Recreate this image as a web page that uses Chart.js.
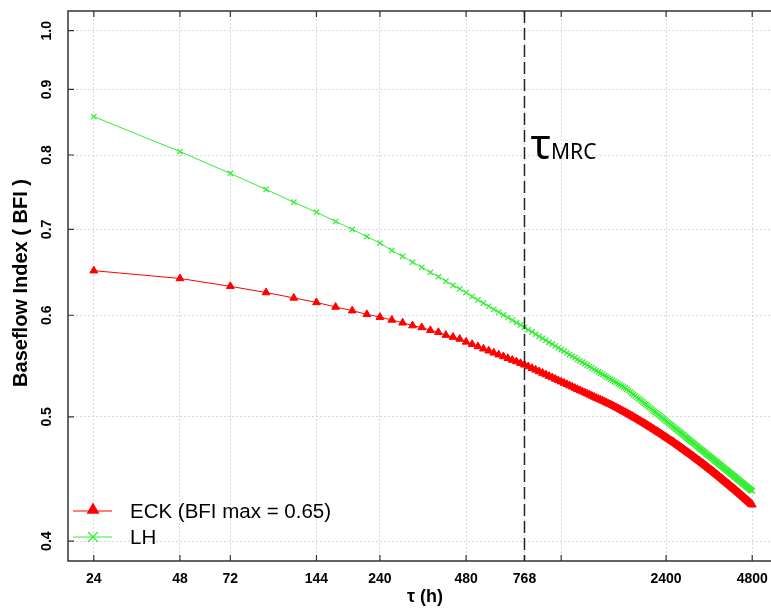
<!DOCTYPE html>
<html>
<head>
<meta charset="utf-8">
<script src="https://cdn.jsdelivr.net/npm/chart.js@4.4.1/dist/chart.umd.min.js"></script>
<style>
  html, body { margin: 0; padding: 0; background: #fff; overflow: hidden; }
  #wrap { width: 790px; height: 610px; }
</style>
</head>
<body>
<div id="wrap"><canvas id="c"></canvas></div>
<script>
// tau (h), one value every 24 h
const tau = [
  24, 48, 72, 96, 120, 144, 168, 192, 216, 240,
  264, 288, 312, 336, 360, 384, 408, 432, 456, 480,
  504, 528, 552, 576, 600, 624, 648, 672, 696, 720,
  744, 768, 792, 816, 840, 864, 888, 912, 936, 960,
  984, 1008, 1032, 1056, 1080, 1104, 1128, 1152, 1176, 1200,
  1224, 1248, 1272, 1296, 1320, 1344, 1368, 1392, 1416, 1440,
  1464, 1488, 1512, 1536, 1560, 1584, 1608, 1632, 1656, 1680,
  1704, 1728, 1752, 1776, 1800, 1824, 1848, 1872, 1896, 1920,
  1944, 1968, 1992, 2016, 2040, 2064, 2088, 2112, 2136, 2160,
  2184, 2208, 2232, 2256, 2280, 2304, 2328, 2352, 2376, 2400,
  2424, 2448, 2472, 2496, 2520, 2544, 2568, 2592, 2616, 2640,
  2664, 2688, 2712, 2736, 2760, 2784, 2808, 2832, 2856, 2880,
  2904, 2928, 2952, 2976, 3000, 3024, 3048, 3072, 3096, 3120,
  3144, 3168, 3192, 3216, 3240, 3264, 3288, 3312, 3336, 3360,
  3384, 3408, 3432, 3456, 3480, 3504, 3528, 3552, 3576, 3600,
  3624, 3648, 3672, 3696, 3720, 3744, 3768, 3792, 3816, 3840,
  3864, 3888, 3912, 3936, 3960, 3984, 4008, 4032, 4056, 4080,
  4104, 4128, 4152, 4176, 4200, 4224, 4248, 4272, 4296, 4320,
  4344, 4368, 4392, 4416, 4440, 4464, 4488, 4512, 4536, 4560,
  4584, 4608, 4632, 4656, 4680, 4704, 4728, 4752, 4776, 4800
];

const eck = [
  0.650, 0.641, 0.632, 0.625, 0.619, 0.614, 0.609, 0.605, 0.601, 0.598,
  0.595, 0.592, 0.589, 0.587, 0.584, 0.582, 0.579, 0.577, 0.575, 0.572,
  0.5696, 0.5673, 0.5650, 0.5630, 0.5609, 0.5590, 0.5572, 0.5554, 0.5537, 0.5521,
  0.5505, 0.5489, 0.5473, 0.5456, 0.5440, 0.5424, 0.5409, 0.5394, 0.5379, 0.5365,
  0.5352, 0.5338, 0.5325, 0.5313, 0.5301, 0.5289, 0.5277, 0.5265, 0.5254, 0.5243,
  0.5233, 0.5222, 0.5212, 0.5202, 0.5192, 0.5182, 0.5173, 0.5164, 0.5155, 0.5146,
  0.5137, 0.5128, 0.5120, 0.5112, 0.5103, 0.5094, 0.5085, 0.5076, 0.5067, 0.5058,
  0.5050, 0.5041, 0.5033, 0.5024, 0.5016, 0.5007, 0.4999, 0.4990, 0.4982, 0.4973,
  0.4965, 0.4957, 0.4949, 0.4942, 0.4934, 0.4926, 0.4918, 0.4910, 0.4902, 0.4894,
  0.4887, 0.4879, 0.4872, 0.4864, 0.4857, 0.4850, 0.4842, 0.4835, 0.4827, 0.4820,
  0.4813, 0.4806, 0.4799, 0.4792, 0.4786, 0.4779, 0.4772, 0.4765, 0.4758, 0.4751,
  0.4744, 0.4738, 0.4731, 0.4725, 0.4718, 0.4711, 0.4705, 0.4698, 0.4692, 0.4685,
  0.4679, 0.4673, 0.4667, 0.4661, 0.4655, 0.4648, 0.4642, 0.4636, 0.4630, 0.4624,
  0.4618, 0.4612, 0.4606, 0.4600, 0.4595, 0.4589, 0.4583, 0.4577, 0.4571, 0.4565,
  0.4560, 0.4554, 0.4549, 0.4543, 0.4538, 0.4532, 0.4527, 0.4521, 0.4516, 0.4510,
  0.4505, 0.4499, 0.4494, 0.4489, 0.4484, 0.4478, 0.4473, 0.4468, 0.4462, 0.4457,
  0.4452, 0.4447, 0.4442, 0.4437, 0.4432, 0.4427, 0.4422, 0.4417, 0.4412, 0.4407,
  0.4402, 0.4398, 0.4393, 0.4388, 0.4384, 0.4379, 0.4374, 0.4369, 0.4365, 0.4360,
  0.4355, 0.4351, 0.4346, 0.4342, 0.4337, 0.4332, 0.4328, 0.4323, 0.4319, 0.4314,
  0.4310, 0.4305, 0.4301, 0.4297, 0.4292, 0.4288, 0.4283, 0.4279, 0.4274, 0.4270
];

const lh = [
  0.857, 0.805, 0.774, 0.752, 0.735, 0.722, 0.710, 0.700, 0.691, 0.683,
  0.674, 0.667, 0.660, 0.654, 0.648, 0.643, 0.638, 0.633, 0.629, 0.625,
  0.6205, 0.6167, 0.6132, 0.6098, 0.6065, 0.6034, 0.6004, 0.5976, 0.5948, 0.5922,
  0.5897, 0.5872, 0.5846, 0.5823, 0.5800, 0.5778, 0.5757, 0.5736, 0.5716, 0.5697,
  0.5678, 0.5660, 0.5642, 0.5625, 0.5608, 0.5591, 0.5575, 0.5560, 0.5544, 0.5529,
  0.5515, 0.5500, 0.5486, 0.5473, 0.5459, 0.5446, 0.5433, 0.5420, 0.5408, 0.5396,
  0.5384, 0.5372, 0.5361, 0.5349, 0.5338, 0.5327, 0.5317, 0.5306, 0.5296, 0.5285,
  0.5275, 0.5266, 0.5254, 0.5241, 0.5229, 0.5216, 0.5204, 0.5192, 0.5179, 0.5167,
  0.5156, 0.5145, 0.5134, 0.5123, 0.5113, 0.5102, 0.5091, 0.5080, 0.5069, 0.5058,
  0.5048, 0.5039, 0.5029, 0.5020, 0.5010, 0.5000, 0.4991, 0.4981, 0.4972, 0.4962,
  0.4954, 0.4945, 0.4937, 0.4928, 0.4920, 0.4911, 0.4903, 0.4894, 0.4886, 0.4877,
  0.4869, 0.4862, 0.4854, 0.4847, 0.4839, 0.4831, 0.4824, 0.4816, 0.4809, 0.4801,
  0.4794, 0.4787, 0.4780, 0.4774, 0.4767, 0.4760, 0.4753, 0.4746, 0.4739, 0.4732,
  0.4726, 0.4719, 0.4713, 0.4707, 0.4700, 0.4694, 0.4688, 0.4681, 0.4675, 0.4669,
  0.4663, 0.4657, 0.4652, 0.4646, 0.4640, 0.4634, 0.4628, 0.4622, 0.4617, 0.4611,
  0.4606, 0.4600, 0.4595, 0.4589, 0.4584, 0.4579, 0.4573, 0.4568, 0.4562, 0.4557,
  0.4552, 0.4547, 0.4542, 0.4538, 0.4533, 0.4528, 0.4523, 0.4518, 0.4513, 0.4508,
  0.4503, 0.4499, 0.4494, 0.4489, 0.4485, 0.4480, 0.4475, 0.4470, 0.4466, 0.4461,
  0.4457, 0.4452, 0.4448, 0.4444, 0.4440, 0.4435, 0.4431, 0.4427, 0.4422, 0.4418,
  0.4414, 0.4410, 0.4406, 0.4402, 0.4398, 0.4393, 0.4389, 0.4385, 0.4381, 0.4377
];

const xTicks = [24, 48, 72, 144, 240, 480, 768, 1032, 2400, 4800];
const xLabels = ['24', '48', '72', '144', '240', '480', '768', '', '2400', '4800'];
const yTicks = [0.4, 0.5, 0.6, 0.7, 0.8, 0.9, 1.0];
const yLabels = ['0.4', '0.5', '0.6', '0.7', '0.8', '0.9', '1.0'];
const tauMRC = 768;

const RED = '#ff0000';
const GREEN = '#33ee33';
const AXFONT = '"Liberation Sans", Arial, sans-serif';

function triangle(ctx, x, y, r) {
    ctx.beginPath();
    ctx.moveTo(x, y - r);
    ctx.lineTo(x + r * 0.866, y + r * 0.5);
    ctx.lineTo(x - r * 0.866, y + r * 0.5);
    ctx.closePath();
    ctx.fill();
}

function cross(ctx, x, y, r) {
    const d = r * 0.7071;
    ctx.beginPath();
    ctx.moveTo(x - d, y - d); ctx.lineTo(x + d, y + d);
    ctx.moveTo(x - d, y + d); ctx.lineTo(x + d, y - d);
    ctx.stroke();
}

const decor = {
    id: 'decor',
    afterDatasetsDraw(chart) {
        const { ctx, chartArea: a, scales: { x, y } } = chart;
        ctx.save();

        // frame (left, top, bottom) + inward ticks
        ctx.strokeStyle = '#333';
        ctx.lineWidth = 1.5;
        ctx.beginPath();
        ctx.moveTo(chart.width, a.top); ctx.lineTo(a.left, a.top);
        ctx.lineTo(a.left, a.bottom); ctx.lineTo(chart.width, a.bottom);
        ctx.stroke();
        ctx.lineWidth = 1.2;
        ctx.beginPath();
        xTicks.forEach(v => {
            const px = x.getPixelForValue(v);
            ctx.moveTo(px, a.bottom); ctx.lineTo(px, a.bottom - 6);
            ctx.moveTo(px, a.top); ctx.lineTo(px, a.top + 6);
        });
        yTicks.forEach(v => {
            const py = y.getPixelForValue(v);
            ctx.moveTo(a.left, py); ctx.lineTo(a.left + 6, py);
        });
        ctx.stroke();

        // tau_MRC marker
        const mx = x.getPixelForValue(tauMRC);
        ctx.strokeStyle = '#222';
        ctx.lineWidth = 1.5;
        ctx.setLineDash([12, 5]);
        ctx.beginPath();
        ctx.moveTo(mx, a.top); ctx.lineTo(mx, a.bottom);
        ctx.stroke();
        ctx.setLineDash([]);

        ctx.fillStyle = '#000';
        ctx.textAlign = 'left';
        ctx.textBaseline = 'alphabetic';
        ctx.font = '42px "Noto Sans"';
        ctx.fillText('τ', mx + 6, 159);
        const tw = ctx.measureText('τ').width;
        ctx.font = '21px "Noto Sans"';
        ctx.fillText('MRC', mx + 6 + tw, 159);

        // y tick labels, rotated
        ctx.font = 'bold 14px ' + AXFONT;
        ctx.textAlign = 'center';
        ctx.textBaseline = 'middle';
        yTicks.forEach((v, i) => {
            ctx.save();
            ctx.translate(47, y.getPixelForValue(v));
            ctx.rotate(-Math.PI / 2);
            ctx.fillText(yLabels[i], 0, 0);
            ctx.restore();
        });

        // y title
        ctx.save();
        ctx.translate(21, 283);
        ctx.rotate(-Math.PI / 2);
        ctx.font = 'bold 20px ' + AXFONT;
        ctx.fillText('Baseflow Index ( BFI )', 0, 0);
        ctx.restore();

        // x title
        ctx.font = 'bold 18px ' + AXFONT;
        ctx.fillText('τ (h)', 425, 597);

        // legend
        const items = [
            { label: 'ECK (BFI max = 0.65)', color: RED, yy: 511, mark: 'tri' },
            { label: 'LH', color: GREEN, yy: 537, mark: 'x' }
        ];
        items.forEach(it => {
            ctx.strokeStyle = it.color;
            ctx.fillStyle = it.color;
            ctx.lineWidth = 1;
            ctx.beginPath();
            ctx.moveTo(73, it.yy); ctx.lineTo(112, it.yy);
            ctx.stroke();
            if (it.mark === 'tri') triangle(ctx, 93, it.yy - 1, 7.5);
            else { ctx.lineWidth = 1.3; cross(ctx, 93, it.yy, 7); }
            ctx.fillStyle = '#000';
            ctx.font = '20.5px ' + AXFONT;
            ctx.textAlign = 'left';
            ctx.textBaseline = 'middle';
            ctx.fillText(it.label, 130, it.yy + 1);
        });

        ctx.restore();
    }
};

new Chart(document.getElementById('c'), {
    type: 'line',
    data: {
        datasets: [
            {
                label: 'ECK (BFI max = 0.65)',
                data: tau.map((t, i) => ({ x: t, y: eck[i] })),
                borderColor: RED,
                backgroundColor: RED,
                borderWidth: 1,
                pointStyle: 'triangle',
                pointRadius: 4.5,
                pointBorderWidth: 1,
                order: 2
            },
            {
                label: 'LH',
                data: tau.map((t, i) => ({ x: t, y: lh[i] })),
                borderColor: GREEN,
                backgroundColor: GREEN,
                borderWidth: 1,
                pointStyle: 'crossRot',
                pointRadius: 3.8,
                pointBorderWidth: 1.2,
                order: 1
            }
        ]
    },
    options: {
        responsive: true,
        maintainAspectRatio: false,
        animation: false,
        layout: { padding: { top: 11, right: 8, left: 0, bottom: 0 } },
        plugins: {
            legend: { display: false },
            tooltip: { enabled: false }
        },
        scales: {
            x: {
                type: 'logarithmic',
                min: 19.5,
                max: 6100,
                afterBuildTicks: s => { s.ticks = xTicks.map(v => ({ value: v })); },
                afterFit: s => { s.height = 49; },
                ticks: {
                    autoSkip: false,
                    maxRotation: 0,
                    minRotation: 0,
                    padding: 10,
                    color: '#000',
                    font: { family: AXFONT, size: 14, weight: 'bold' },
                    callback: v => {
                        const i = xTicks.indexOf(v);
                        return i >= 0 ? xLabels[i] : '';
                    }
                },
                grid: { color: '#d8d8d8', lineWidth: 1, drawTicks: false },
                border: { display: false, dash: [2, 2] }
            },
            y: {
                type: 'logarithmic',
                min: 0.386,
                max: 1.036,
                afterBuildTicks: s => { s.ticks = yTicks.map(v => ({ value: v })); },
                afterFit: s => { s.width = 68; },
                ticks: { display: false },
                grid: { color: '#d8d8d8', lineWidth: 1, drawTicks: false },
                border: { display: false, dash: [2, 2] }
            }
        }
    },
    plugins: [decor]
});
</script>
</body>
</html>
